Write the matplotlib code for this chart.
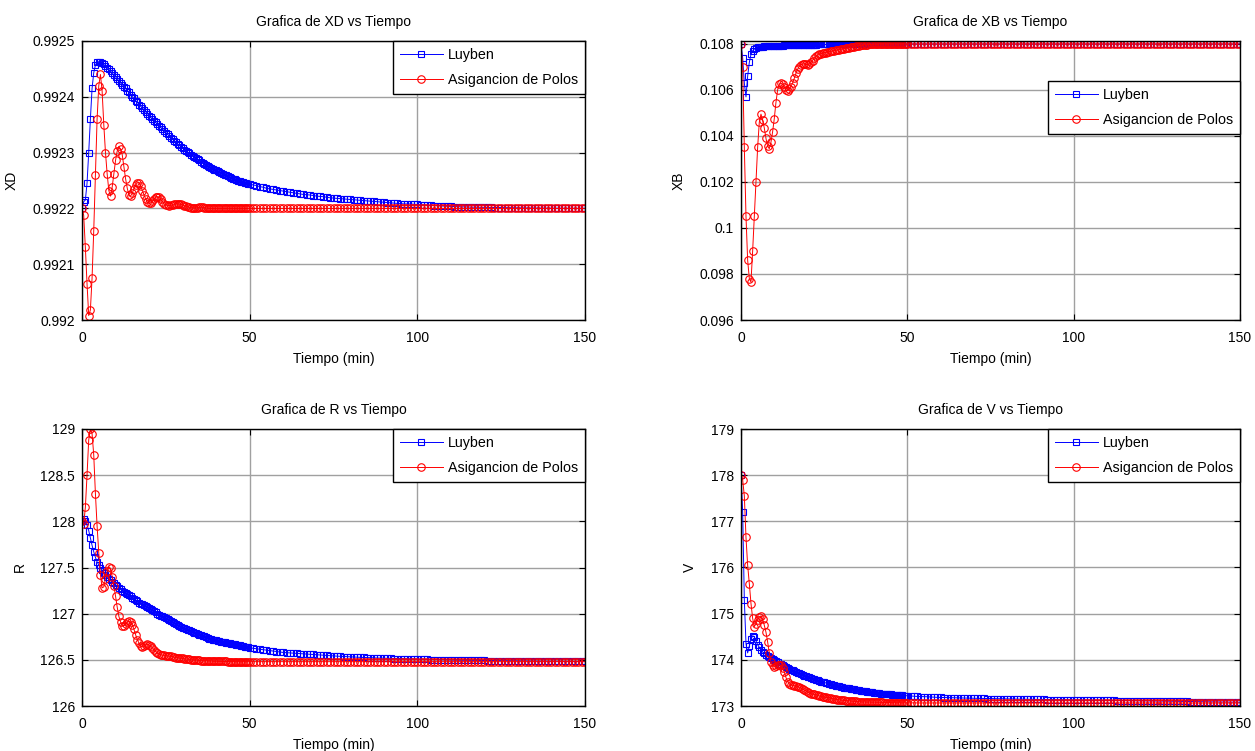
import matplotlib
matplotlib.use("Agg")
import matplotlib.pyplot as plt

plt.rcParams['font.family'] = ['Liberation Sans', 'DejaVu Sans']
plt.rcParams['font.size'] = 10

# ---------------- time samples (min) ----------------
t_early = [0, 0.5, 1, 1.5, 2, 2.5, 3, 3.5, 4, 4.5, 5, 5.5, 6, 6.5, 7, 7.5, 8, 8.5, 9, 9.5,
           10, 10.5, 11, 11.5, 12, 12.5, 13, 13.5, 14, 14.5, 15, 15.5, 16, 16.5, 17, 17.5,
           18, 18.5, 19, 19.5, 20, 20.5, 21, 21.5, 22, 22.5, 23, 23.5, 24, 24.5, 25]
t_mid = [25.5, 26, 26.5, 27, 27.5, 28, 28.5, 29, 29.5, 30, 30.5, 31, 31.5, 32, 32.5, 33, 33.5,
         34, 34.5, 35, 35.5, 36, 36.5, 37, 37.5, 38, 38.5, 39, 39.5, 40, 40.5, 41, 41.5, 42,
         42.5, 43, 43.5, 44, 44.5, 45, 45.5, 46, 46.5, 47, 47.5, 48, 48.5, 49, 49.5, 50]
t_late = [51, 52, 53, 54, 55, 56, 57, 58, 59, 60,
          61, 62, 63, 64, 65, 66, 67, 68, 69, 70,
          71, 72, 73, 74, 75, 76, 77, 78, 79, 80,
          81, 82, 83, 84, 85, 86, 87, 88, 89, 90,
          91, 92, 93, 94, 95, 96, 97, 98, 99, 100,
          101, 102, 103, 104, 105, 106, 107, 108, 109, 110,
          111, 112, 113, 114, 115, 116, 117, 118, 119, 120,
          121, 122, 123, 124, 125, 126, 127, 128, 129, 130,
          131, 132, 133, 134, 135, 136, 137, 138, 139, 140,
          141, 142, 143, 144, 145, 146, 147, 148, 149, 150]
tiempo = t_early + t_mid + t_late

# ---------------- XD ----------------
xd_luyben = [0.992200, 0.992212, 0.992215, 0.992245, 0.992300, 0.992360, 0.992415, 0.992443, 0.992457, 0.992462,
             0.992463, 0.992463, 0.992461, 0.992458, 0.992455, 0.992452, 0.992449, 0.992446, 0.992443, 0.992439,
             0.992436, 0.992432, 0.992429, 0.992425, 0.992422, 0.992418, 0.992415, 0.992411, 0.992408, 0.992404,
             0.992400, 0.992397, 0.992393, 0.992390, 0.992386, 0.992383, 0.992380, 0.992376, 0.992373, 0.992370,
             0.992366, 0.992363, 0.992360, 0.992357, 0.992354, 0.992351, 0.992348, 0.992345, 0.992342, 0.992339,
             0.992336] + \
            [0.9923330, 0.9923300, 0.9923270, 0.9923240, 0.9923215, 0.9923190, 0.9923160, 0.9923130, 0.9923105, 0.9923080,
             0.9923055, 0.9923030, 0.9923010, 0.9922990, 0.9922965, 0.9922940, 0.9922920, 0.9922900, 0.9922880, 0.9922860,
             0.9922840, 0.9922820, 0.9922800, 0.9922780, 0.9922765, 0.9922750, 0.9922730, 0.9922710, 0.9922695, 0.9922680,
             0.9922665, 0.9922650, 0.9922635, 0.9922620, 0.9922605, 0.9922590, 0.9922575, 0.9922560, 0.9922545, 0.9922530,
             0.9922520, 0.9922510, 0.9922500, 0.9922490, 0.9922480, 0.9922470, 0.9922460, 0.9922450, 0.9922445, 0.9922440] + \
            [0.9922420, 0.9922410, 0.9922390, 0.9922380, 0.9922360, 0.9922350, 0.9922340, 0.9922330, 0.9922320, 0.9922310,
             0.9922300, 0.9922290, 0.9922280, 0.9922270, 0.9922260, 0.9922250, 0.9922245, 0.9922240, 0.9922230, 0.9922220,
             0.9922215, 0.9922210, 0.9922200, 0.9922190, 0.9922185, 0.9922180, 0.9922175, 0.9922170, 0.9922165, 0.9922160,
             0.9922155, 0.9922150, 0.9922145, 0.9922140, 0.9922135, 0.9922130, 0.9922125, 0.9922120, 0.9922115, 0.9922110,
             0.9922105, 0.9922100, 0.9922095, 0.9922090, 0.9922085, 0.9922080, 0.9922080, 0.9922078, 0.9922074, 0.9922070,
             0.9922066, 0.9922062, 0.9922058, 0.9922054, 0.9922050, 0.9922047, 0.9922044, 0.9922041, 0.9922038, 0.9922035,
             0.9922033, 0.9922031, 0.9922029, 0.9922027, 0.9922025, 0.9922023, 0.9922022, 0.9922021, 0.9922020, 0.9922019,
             0.9922018, 0.9922017, 0.9922016, 0.9922015, 0.9922014, 0.9922013, 0.9922012, 0.9922011, 0.9922010, 0.9922010,
             0.9922009, 0.9922008, 0.9922008, 0.9922007, 0.9922006, 0.9922006, 0.9922005, 0.9922005, 0.9922004, 0.9922004,
             0.9922003, 0.9922003, 0.9922003, 0.9922002, 0.9922002, 0.9922002, 0.9922001, 0.9922001, 0.9922001, 0.9922001]
xd_polos = [0.992200, 0.992188, 0.992130, 0.992065, 0.992008, 0.992018, 0.992075, 0.992160, 0.992260, 0.992360,
            0.992420, 0.992440, 0.992410, 0.992350, 0.992300, 0.992262, 0.992232, 0.992222, 0.992238, 0.992262,
            0.992286, 0.992303, 0.992311, 0.992306, 0.992296, 0.992275, 0.992253, 0.992236, 0.992224, 0.992222,
            0.992228, 0.992235, 0.992242, 0.992246, 0.992246, 0.992240, 0.992232, 0.992224, 0.992217, 0.992211,
            0.992209, 0.992210, 0.992213, 0.992217, 0.992220, 0.992221, 0.992220, 0.992216, 0.992212, 0.992208,
            0.992206] + \
           [0.9922055, 0.9922050, 0.9922055, 0.9922060, 0.9922070, 0.9922080, 0.9922082, 0.9922080, 0.9922070, 0.9922060,
            0.9922050, 0.9922040, 0.9922030, 0.9922020, 0.9922015, 0.9922010, 0.9922010, 0.9922010, 0.9922015, 0.9922020,
            0.9922020, 0.9922020, 0.9922015, 0.9922010, 0.9922005, 0.9922000, 0.9922000, 0.9922000, 0.9922000, 0.9922000,
            0.9922000, 0.9922000, 0.9922000, 0.9922000, 0.9922000, 0.9922000, 0.9922000, 0.9922000, 0.9922000, 0.9922000,
            0.9922000, 0.9922000, 0.9922000, 0.9922000, 0.9922000, 0.9922000, 0.9922000, 0.9922000, 0.9922000, 0.9922000] + \
           [0.992200, 0.992200, 0.992200, 0.992200, 0.992200, 0.992200, 0.992200, 0.992200, 0.992200, 0.992200,
            0.992200, 0.992200, 0.992200, 0.992200, 0.992200, 0.992200, 0.992200, 0.992200, 0.992200, 0.992200,
            0.992200, 0.992200, 0.992200, 0.992200, 0.992200, 0.992200, 0.992200, 0.992200, 0.992200, 0.992200,
            0.992200, 0.992200, 0.992200, 0.992200, 0.992200, 0.992200, 0.992200, 0.992200, 0.992200, 0.992200,
            0.992200, 0.992200, 0.992200, 0.992200, 0.992200, 0.992200, 0.992200, 0.992200, 0.992200, 0.992200,
            0.992200, 0.992200, 0.992200, 0.992200, 0.992200, 0.992200, 0.992200, 0.992200, 0.992200, 0.992200,
            0.992200, 0.992200, 0.992200, 0.992200, 0.992200, 0.992200, 0.992200, 0.992200, 0.992200, 0.992200,
            0.992200, 0.992200, 0.992200, 0.992200, 0.992200, 0.992200, 0.992200, 0.992200, 0.992200, 0.992200,
            0.992200, 0.992200, 0.992200, 0.992200, 0.992200, 0.992200, 0.992200, 0.992200, 0.992200, 0.992200,
            0.992200, 0.992200, 0.992200, 0.992200, 0.992200, 0.992200, 0.992200, 0.992200, 0.992200, 0.992200]

# ---------------- XB ----------------
xb_luyben = [0.10800, 0.10740, 0.10630, 0.10570, 0.10660, 0.10720, 0.10755, 0.10770, 0.10778, 0.10782,
             0.10785, 0.10787, 0.10788, 0.10789, 0.10790, 0.10790, 0.10791, 0.10791, 0.10792, 0.10792,
             0.10792, 0.10792, 0.10793, 0.10793, 0.10793, 0.10793, 0.10794, 0.10794, 0.10794, 0.10794,
             0.10795, 0.10795, 0.10795, 0.10795, 0.10795, 0.10796, 0.10796, 0.10796, 0.10796, 0.10796,
             0.10797, 0.10797, 0.10797, 0.10797, 0.10797, 0.10797, 0.10798, 0.10798, 0.10798, 0.10798,
             0.10798] + \
            [0.10798, 0.10798, 0.10798, 0.10798, 0.10799, 0.10799, 0.10799, 0.10799, 0.10799, 0.10799,
             0.10799, 0.10799, 0.10799, 0.10799, 0.10799, 0.10799, 0.10800, 0.10800, 0.10800, 0.10800,
             0.10800, 0.10800, 0.10800, 0.10800, 0.10800, 0.10800, 0.10800, 0.10800, 0.10800, 0.10800,
             0.10800, 0.10800, 0.10800, 0.10800, 0.10800, 0.10800, 0.10800, 0.10800, 0.10800, 0.10800,
             0.10800, 0.10800, 0.10800, 0.10800, 0.10800, 0.10800, 0.10800, 0.10800, 0.10800, 0.10800] + \
            [0.10800, 0.10800, 0.10800, 0.10800, 0.10800, 0.10800, 0.10800, 0.10800, 0.10800, 0.10800,
             0.10800, 0.10800, 0.10800, 0.10800, 0.10800, 0.10800, 0.10800, 0.10800, 0.10800, 0.10800,
             0.10800, 0.10800, 0.10800, 0.10800, 0.10800, 0.10800, 0.10800, 0.10800, 0.10800, 0.10800,
             0.10800, 0.10800, 0.10800, 0.10800, 0.10800, 0.10800, 0.10800, 0.10800, 0.10800, 0.10800,
             0.10800, 0.10800, 0.10800, 0.10800, 0.10800, 0.10800, 0.10800, 0.10800, 0.10800, 0.10800,
             0.10800, 0.10800, 0.10800, 0.10800, 0.10800, 0.10800, 0.10800, 0.10800, 0.10800, 0.10800,
             0.10800, 0.10800, 0.10800, 0.10800, 0.10800, 0.10800, 0.10800, 0.10800, 0.10800, 0.10800,
             0.10800, 0.10800, 0.10800, 0.10800, 0.10800, 0.10800, 0.10800, 0.10800, 0.10800, 0.10800,
             0.10800, 0.10800, 0.10800, 0.10800, 0.10800, 0.10800, 0.10800, 0.10800, 0.10800, 0.10800,
             0.10800, 0.10800, 0.10800, 0.10800, 0.10800, 0.10800, 0.10800, 0.10800, 0.10800, 0.10800]
xb_polos = [0.10800, 0.10700, 0.10350, 0.10050, 0.09860, 0.09780, 0.09765, 0.09900, 0.10050, 0.10200,
            0.10350, 0.10460, 0.10495, 0.10470, 0.10435, 0.10390, 0.10355, 0.10345, 0.10372, 0.10418,
            0.10475, 0.10545, 0.10600, 0.10625, 0.10630, 0.10625, 0.10612, 0.10600, 0.10597, 0.10603,
            0.10615, 0.10630, 0.10650, 0.10672, 0.10690, 0.10702, 0.10710, 0.10714, 0.10713, 0.10711,
            0.10710, 0.10712, 0.10720, 0.10728, 0.10738, 0.10747, 0.10752, 0.10755, 0.10758, 0.10760,
            0.10762] + \
           [0.10763, 0.10765, 0.10766, 0.10768, 0.10770, 0.10771, 0.10773, 0.10774, 0.10776, 0.10777,
            0.10779, 0.10780, 0.10781, 0.10782, 0.10784, 0.10785, 0.10787, 0.10788, 0.10790, 0.10791,
            0.10793, 0.10794, 0.10795, 0.10796, 0.10797, 0.10797, 0.10798, 0.10798, 0.10799, 0.10799,
            0.10799, 0.10799, 0.10800, 0.10800, 0.10800, 0.10800, 0.10800, 0.10800, 0.10800, 0.10800,
            0.10800, 0.10800, 0.10800, 0.10800, 0.10800, 0.10800, 0.10800, 0.10800, 0.10800, 0.10800] + \
           [0.10800, 0.10800, 0.10800, 0.10800, 0.10800, 0.10800, 0.10800, 0.10800, 0.10800, 0.10800,
            0.10800, 0.10800, 0.10800, 0.10800, 0.10800, 0.10800, 0.10800, 0.10800, 0.10800, 0.10800,
            0.10800, 0.10800, 0.10800, 0.10800, 0.10800, 0.10800, 0.10800, 0.10800, 0.10800, 0.10800,
            0.10800, 0.10800, 0.10800, 0.10800, 0.10800, 0.10800, 0.10800, 0.10800, 0.10800, 0.10800,
            0.10800, 0.10800, 0.10800, 0.10800, 0.10800, 0.10800, 0.10800, 0.10800, 0.10800, 0.10800,
            0.10800, 0.10800, 0.10800, 0.10800, 0.10800, 0.10800, 0.10800, 0.10800, 0.10800, 0.10800,
            0.10800, 0.10800, 0.10800, 0.10800, 0.10800, 0.10800, 0.10800, 0.10800, 0.10800, 0.10800,
            0.10800, 0.10800, 0.10800, 0.10800, 0.10800, 0.10800, 0.10800, 0.10800, 0.10800, 0.10800,
            0.10800, 0.10800, 0.10800, 0.10800, 0.10800, 0.10800, 0.10800, 0.10800, 0.10800, 0.10800,
            0.10800, 0.10800, 0.10800, 0.10800, 0.10800, 0.10800, 0.10800, 0.10800, 0.10800, 0.10800]

# ---------------- R ----------------
r_luyben = [128.00, 128.02, 128.00, 127.96, 127.90, 127.82, 127.74, 127.67, 127.61, 127.56,
            127.53, 127.50, 127.47, 127.44, 127.42, 127.40, 127.38, 127.36, 127.34, 127.33,
            127.31, 127.30, 127.28, 127.27, 127.25, 127.24, 127.22, 127.21, 127.20, 127.19,
            127.17, 127.16, 127.15, 127.14, 127.12, 127.11, 127.10, 127.09, 127.08, 127.07,
            127.06, 127.05, 127.04, 127.03, 127.02, 127.00, 126.99, 126.98, 126.97, 126.96,
            126.95] + \
           [126.940, 126.930, 126.920, 126.910, 126.900, 126.890, 126.880, 126.870, 126.860, 126.850,
            126.840, 126.830, 126.825, 126.820, 126.810, 126.800, 126.795, 126.790, 126.780, 126.770,
            126.765, 126.760, 126.755, 126.750, 126.740, 126.730, 126.725, 126.720, 126.715, 126.710,
            126.705, 126.700, 126.696, 126.692, 126.688, 126.684, 126.680, 126.677, 126.673, 126.670,
            126.667, 126.664, 126.660, 126.657, 126.654, 126.648, 126.644, 126.640, 126.636, 126.632] + \
           [126.625, 126.620, 126.615, 126.610, 126.605, 126.600, 126.595, 126.590, 126.585, 126.580,
            126.578, 126.575, 126.572, 126.570, 126.568, 126.565, 126.562, 126.560, 126.558, 126.555,
            126.552, 126.550, 126.548, 126.545, 126.542, 126.540, 126.538, 126.536, 126.534, 126.532,
            126.530, 126.529, 126.527, 126.526, 126.524, 126.523, 126.521, 126.520, 126.519, 126.518,
            126.516, 126.515, 126.514, 126.513, 126.512, 126.511, 126.510, 126.509, 126.508, 126.507,
            126.506, 126.505, 126.504, 126.503, 126.502, 126.501, 126.5005, 126.500, 126.499, 126.498,
            126.4975, 126.497, 126.4965, 126.496, 126.4955, 126.495, 126.4945, 126.494, 126.4935, 126.493,
            126.4925, 126.492, 126.4915, 126.491, 126.4905, 126.490, 126.4895, 126.489, 126.4885, 126.488,
            126.488, 126.4875, 126.487, 126.487, 126.4865, 126.486, 126.486, 126.4855, 126.4855, 126.485,
            126.485, 126.4845, 126.4845, 126.484, 126.484, 126.4835, 126.4835, 126.483, 126.483, 126.483]
r_polos = [128.00, 127.97, 128.15, 128.50, 128.88, 129.00, 128.95, 128.72, 128.30, 127.95,
           127.66, 127.42, 127.28, 127.29, 127.38, 127.46, 127.51, 127.49, 127.40, 127.30,
           127.19, 127.07, 126.97, 126.91, 126.87, 126.87, 126.89, 126.91, 126.92, 126.91,
           126.88, 126.83, 126.77, 126.72, 126.68, 126.65, 126.64, 126.65, 126.66, 126.67,
           126.66, 126.65, 126.63, 126.61, 126.59, 126.57, 126.56, 126.555, 126.55, 126.55,
           126.545] + \
          [126.542, 126.540, 126.538, 126.535, 126.530, 126.525, 126.522, 126.520, 126.517, 126.515,
           126.512, 126.510, 126.507, 126.505, 126.502, 126.500, 126.500, 126.500, 126.497, 126.495,
           126.492, 126.490, 126.490, 126.490, 126.490, 126.490, 126.487, 126.485, 126.485, 126.485,
           126.484, 126.483, 126.4825, 126.482, 126.482, 126.482, 126.4815, 126.481, 126.481, 126.481,
           126.4805, 126.480, 126.480, 126.480, 126.480, 126.480, 126.480, 126.480, 126.480, 126.480] + \
          [126.480, 126.480, 126.480, 126.480, 126.480, 126.480, 126.480, 126.480, 126.480, 126.480,
           126.480, 126.480, 126.480, 126.480, 126.480, 126.480, 126.480, 126.480, 126.480, 126.480,
           126.480, 126.480, 126.480, 126.480, 126.480, 126.480, 126.480, 126.480, 126.480, 126.480,
           126.480, 126.480, 126.480, 126.480, 126.480, 126.480, 126.480, 126.480, 126.480, 126.480,
           126.480, 126.480, 126.480, 126.480, 126.480, 126.480, 126.480, 126.480, 126.480, 126.480,
           126.480, 126.480, 126.480, 126.480, 126.480, 126.480, 126.480, 126.480, 126.480, 126.480,
           126.480, 126.480, 126.480, 126.480, 126.480, 126.480, 126.480, 126.480, 126.480, 126.480,
           126.480, 126.480, 126.480, 126.480, 126.480, 126.480, 126.480, 126.480, 126.480, 126.480,
           126.480, 126.480, 126.480, 126.480, 126.480, 126.480, 126.480, 126.480, 126.480, 126.480,
           126.480, 126.480, 126.480, 126.480, 126.480, 126.480, 126.480, 126.480, 126.480, 126.480]

# ---------------- V ----------------
v_luyben = [178.00, 177.20, 175.30, 174.35, 174.15, 174.30, 174.45, 174.52, 174.50, 174.41,
            174.33, 174.27, 174.22, 174.17, 174.14, 174.11, 174.08, 174.06, 174.04, 174.01,
            173.99, 173.97, 173.95, 173.92, 173.90, 173.89, 173.87, 173.85, 173.83, 173.81,
            173.79, 173.77, 173.76, 173.74, 173.72, 173.71, 173.69, 173.68, 173.66, 173.65,
            173.63, 173.62, 173.60, 173.59, 173.58, 173.57, 173.56, 173.55, 173.53, 173.52,
            173.51] + \
           [173.500, 173.490, 173.480, 173.470, 173.460, 173.450, 173.440, 173.430, 173.425, 173.420,
            173.410, 173.400, 173.395, 173.390, 173.380, 173.370, 173.365, 173.360, 173.355, 173.350,
            173.340, 173.330, 173.325, 173.320, 173.315, 173.310, 173.305, 173.300, 173.295, 173.290,
            173.285, 173.280, 173.275, 173.270, 173.2675, 173.265, 173.2625, 173.260, 173.255, 173.250,
            173.245, 173.240, 173.2375, 173.235, 173.2325, 173.230, 173.2275, 173.225, 173.2225, 173.220] + \
           [173.215, 173.210, 173.207, 173.205, 173.202, 173.200, 173.195, 173.190, 173.187, 173.185,
            173.182, 173.180, 173.179, 173.178, 173.176, 173.175, 173.173, 173.172, 173.170, 173.168,
            173.166, 173.165, 173.163, 173.162, 173.161, 173.160, 173.158, 173.157, 173.155, 173.154,
            173.152, 173.151, 173.149, 173.148, 173.147, 173.146, 173.145, 173.144, 173.143, 173.142,
            173.141, 173.140, 173.139, 173.138, 173.137, 173.136, 173.135, 173.134, 173.133, 173.132,
            173.131, 173.130, 173.129, 173.128, 173.127, 173.126, 173.125, 173.124, 173.123, 173.122,
            173.121, 173.120, 173.119, 173.118, 173.117, 173.116, 173.115, 173.114, 173.113, 173.112,
            173.111, 173.110, 173.109, 173.108, 173.107, 173.106, 173.105, 173.104, 173.103, 173.102,
            173.101, 173.100, 173.099, 173.098, 173.097, 173.096, 173.095, 173.094, 173.093, 173.092,
            173.091, 173.090, 173.089, 173.088, 173.087, 173.086, 173.085, 173.084, 173.083, 173.082]
v_polos = [178.00, 177.90, 177.55, 176.65, 176.05, 175.65, 175.22, 174.90, 174.72, 174.78,
           174.87, 174.93, 174.95, 174.88, 174.75, 174.60, 174.39, 174.15, 173.96, 173.88,
           173.85, 173.86, 173.88, 173.89, 173.88, 173.82, 173.74, 173.62, 173.53, 173.48,
           173.46, 173.45, 173.44, 173.43, 173.42, 173.41, 173.39, 173.37, 173.35, 173.33,
           173.31, 173.29, 173.27, 173.26, 173.25, 173.24, 173.23, 173.22, 173.21, 173.20,
           173.19] + \
          [173.185, 173.180, 173.175, 173.170, 173.160, 173.150, 173.145, 173.140, 173.135, 173.130,
           173.125, 173.120, 173.1175, 173.115, 173.1125, 173.110, 173.105, 173.100, 173.0975, 173.095,
           173.0925, 173.090, 173.089, 173.088, 173.0865, 173.085, 173.0835, 173.082, 173.081, 173.080,
           173.079, 173.078, 173.0775, 173.077, 173.076, 173.075, 173.0745, 173.074, 173.0735, 173.073,
           173.0725, 173.072, 173.0715, 173.071, 173.0705, 173.070, 173.0695, 173.069, 173.0685, 173.068] + \
          [173.067, 173.067, 173.066, 173.066, 173.066, 173.065, 173.065, 173.065, 173.065, 173.065,
           173.065, 173.065, 173.065, 173.065, 173.065, 173.065, 173.065, 173.065, 173.065, 173.065,
           173.065, 173.065, 173.065, 173.065, 173.065, 173.065, 173.065, 173.065, 173.065, 173.065,
           173.065, 173.065, 173.065, 173.065, 173.065, 173.065, 173.065, 173.065, 173.065, 173.065,
           173.065, 173.065, 173.065, 173.065, 173.065, 173.065, 173.065, 173.065, 173.065, 173.065,
           173.065, 173.065, 173.065, 173.065, 173.065, 173.065, 173.065, 173.065, 173.065, 173.065,
           173.065, 173.065, 173.065, 173.065, 173.065, 173.065, 173.065, 173.065, 173.065, 173.065,
           173.065, 173.065, 173.065, 173.065, 173.065, 173.065, 173.065, 173.065, 173.065, 173.065,
           173.065, 173.065, 173.065, 173.065, 173.065, 173.065, 173.065, 173.065, 173.065, 173.065,
           173.065, 173.065, 173.065, 173.065, 173.065, 173.065, 173.065, 173.065, 173.065, 173.065]

x_ticks = [0, 50, 100, 150]
xd_ticks = [0.992, 0.9921, 0.9922, 0.9923, 0.9924, 0.9925]
xd_labels = ['0.992', '0.9921', '0.9922', '0.9923', '0.9924', '0.9925']
xb_ticks = [0.096, 0.098, 0.100, 0.102, 0.104, 0.106, 0.108]
xb_labels = ['0.096', '0.098', '0.1', '0.102', '0.104', '0.106', '0.108']
r_ticks = [126, 126.5, 127, 127.5, 128, 128.5, 129]
r_labels = ['126', '126.5', '127', '127.5', '128', '128.5', '129']
v_ticks = [173, 174, 175, 176, 177, 178, 179]
v_labels = ['173', '174', '175', '176', '177', '178', '179']

legend_names = ['Luyben', 'Asigancion de Polos']

W, H = 1255, 751
fig = plt.figure(figsize=(W / 100, H / 100), dpi=100)


def px_axes(x0, y0, x1, y1):
    return fig.add_axes([x0 / W, 1 - y1 / H, (x1 - x0) / W, (y1 - y0) / H])


panels = [
    dict(box=(82, 41, 585, 320), yb=xd_luyben, yr=xd_polos, ylim=(0.992, 0.9925),
         yt=xd_ticks, yl=xd_labels, title='Grafica de XD vs Tiempo', ylab='XD', leg=(1.0, 1.0)),
    dict(box=(741, 41, 1240, 320), yb=xb_luyben, yr=xb_polos, ylim=(0.096, 0.10813),
         yt=xb_ticks, yl=xb_labels, title='Grafica de XB vs Tiempo', ylab='XB', leg=(1.0, 1 - 40 / 279)),
    dict(box=(82, 429, 585, 706), yb=r_luyben, yr=r_polos, ylim=(126, 129),
         yt=r_ticks, yl=r_labels, title='Grafica de R vs Tiempo', ylab='R', leg=(1.0, 1.0)),
    dict(box=(741, 429, 1240, 706), yb=v_luyben, yr=v_polos, ylim=(173, 179),
         yt=v_ticks, yl=v_labels, title='Grafica de V vs Tiempo', ylab='V', leg=(1.0, 1.0)),
]

for p in panels:
    ax = px_axes(*p['box'])
    ax.plot(tiempo, p['yb'], color='#0000ff', lw=0.7, marker='s', ms=4.8,
            mfc='none', mec='#0000ff', mew=0.8, label=legend_names[0])
    ax.plot(tiempo, p['yr'], color='#ff0000', lw=0.7, marker='o', ms=5.4,
            mfc='none', mec='#ff0000', mew=0.8, label=legend_names[1])
    ax.set_xlim(0, 150)
    ax.set_ylim(*p['ylim'])
    ax.set_xticks(x_ticks)
    ax.set_xticklabels([str(v) for v in x_ticks])
    ax.set_yticks(p['yt'])
    ax.set_yticklabels(p['yl'])
    ax.tick_params(direction='in', top=True, right=True, length=4, width=0.8,
                   labelsize=10, colors='black')
    ax.tick_params(axis='x', pad=8)
    ax.tick_params(axis='y', pad=5)
    ax.grid(True, color='#a0a0a0', lw=1.0, ls='-')
    ax.set_axisbelow(True)
    for s in ax.spines.values():
        s.set_linewidth(1.0)
        s.set_color('black')
    ax.set_title(p['title'], fontsize=10, pad=11)
    ax.set_xlabel('Tiempo (min)', fontsize=10, labelpad=5)
    ax.set_ylabel(p['ylab'], fontsize=10, labelpad=10)
    leg = ax.legend(loc='upper right', bbox_to_anchor=p['leg'], borderaxespad=0,
                    fancybox=False, framealpha=1, edgecolor='black', fontsize=10.3,
                    handlelength=3.0, handletextpad=0.35, borderpad=0.5,
                    labelspacing=0.75)
    leg.get_frame().set_linewidth(1.0)

fig.savefig('out.png', dpi=100)
